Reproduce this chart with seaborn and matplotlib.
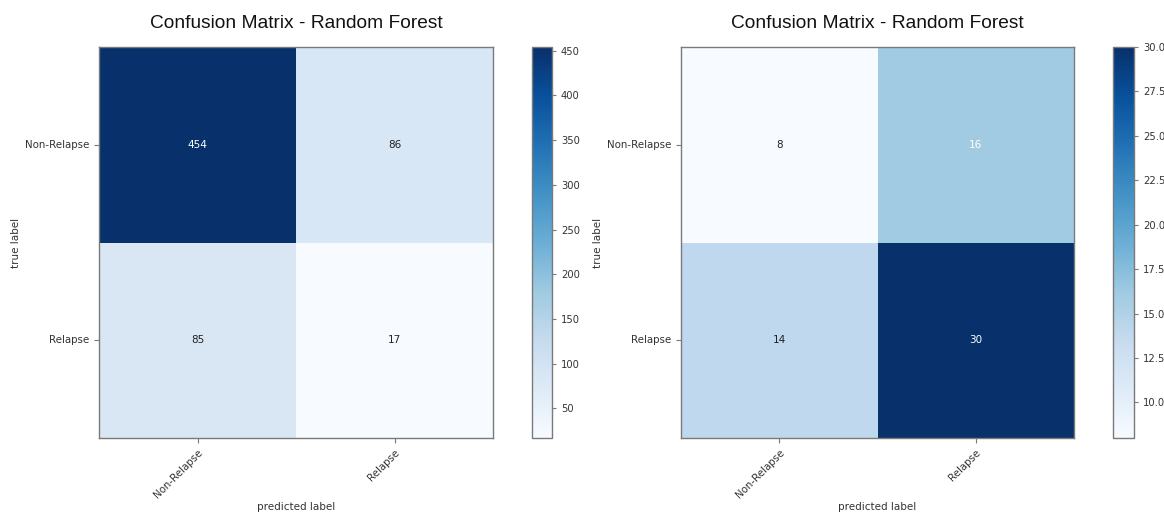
import numpy as np
import pandas as pd
import matplotlib
matplotlib.use("Agg")
import matplotlib.pyplot as plt
import seaborn as sns

# Class names and confusion counts (rows: true label, columns: predicted label)
class_names = ["Non-Relapse", "Relapse"]
cm_left = [[454, 86],
           [85, 17]]
cm_right = [[8, 16],
            [14, 30]]
title_text = "Confusion Matrix - Random Forest"

sns.set_style("white")
plt.rcParams["font.family"] = ["DejaVu Sans"]

W, H = 1164, 515
fig = plt.figure(figsize=(W / 100, H / 100), dpi=100)


def box(x0, y0, x1, y1):
    return [x0 / W, 1 - y1 / H, (x1 - x0) / W, (y1 - y0) / H]


panels = [
    (cm_left, box(99, 47, 493, 438), box(532, 47, 552, 438)),
    (cm_right, box(681, 47, 1074, 438), box(1113, 47, 1134, 438)),
]

text_col = "#333333"
edge_col = "#7a7a7a"

for cm, ax_box, cb_box in panels:
    ax = fig.add_axes(ax_box)
    cax = fig.add_axes(cb_box)
    df = pd.DataFrame(cm, index=class_names, columns=class_names)
    sns.heatmap(df, ax=ax, cbar_ax=cax, cmap="Blues", annot=True, fmt="d",
                annot_kws={"fontsize": 7.5}, linewidths=0)
    # White text on cells above half the maximum, dark text elsewhere
    thresh = np.max(cm) / 2.0
    flat = np.asarray(cm).ravel()
    for t, v in zip(ax.texts, flat):
        t.set_color("white" if v > thresh else "#222222")

    for sp in ax.spines.values():
        sp.set_visible(True)
        sp.set_color(edge_col)
        sp.set_linewidth(1.0)
    ax.tick_params(axis="both", which="both", length=3.5, width=0.8,
                   color=edge_col, labelsize=7.4, labelcolor=text_col,
                   left=True, bottom=True)
    ax.set_yticklabels(class_names, rotation=0, va="center")
    ax.set_xticklabels(class_names, rotation=45, ha="right",
                       rotation_mode="anchor")
    ax.set_ylabel("true label", fontsize=7.5, color=text_col, labelpad=3)
    ax.set_xlabel("predicted label", fontsize=7.5, color=text_col, labelpad=1)
    ax.set_title(title_text, fontsize=13.8, family="Liberation Sans",
                 color="#111111", pad=14)

    cb = ax.collections[0].colorbar
    cb.outline.set_visible(True)
    cb.outline.set_linewidth(1.0)
    cb.outline.set_edgecolor(edge_col)
    cax.tick_params(length=3, width=0.8, color=edge_col, labelsize=7.2,
                    labelcolor=text_col, right=True)

fig.savefig("out.png", dpi=100, facecolor="white")
